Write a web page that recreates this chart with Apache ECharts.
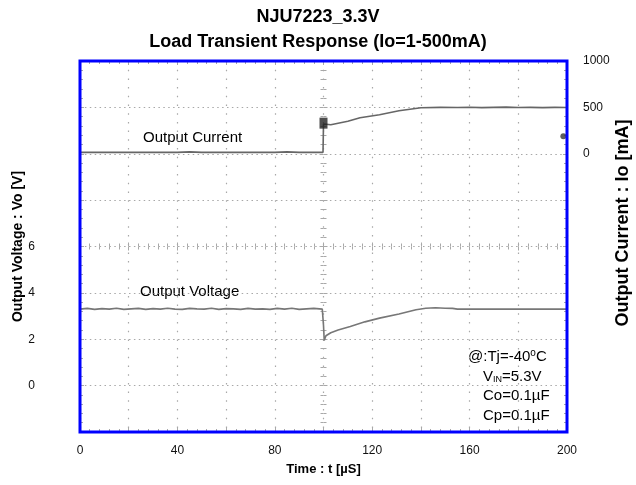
<!DOCTYPE html>
<html>
<head>
<meta charset="utf-8">
<script src="https://cdn.jsdelivr.net/npm/echarts@6/dist/echarts.min.js"></script>
<style>
html,body{margin:0;padding:0;background:#fff;}
#chart{width:636px;height:485px;}
</style>
</head>
<body>
<div id="chart"></div>
<script>
// ---- data ----
const titleLines = ['NJU7223_3.3V', 'Load Transient Response (Io=1-500mA)'];
const xTickLabels = [0, 40, 80, 120, 160, 200];
const voltTickLabels = [0, 2, 4, 6];
const currTickLabels = [0, 500, 1000];

// Output voltage trace (t in µs, Vo in V)
const voltTime = [0,3,6,9,12,15,18,21,24,27,30,33,36,39,42,45,48,51,54,57,60,63,66,69,72,75,78,81,84,87,90,93,96,99.5,
  100,100.3,101,103,106,111,117,123,131,138,142,146,150,153,155,160,170,180,190,200];
const voltValue = [3.30,3.33,3.29,3.32,3.30,3.34,3.29,3.31,3.33,3.29,3.32,3.30,3.34,3.30,3.29,3.33,3.31,3.30,3.34,3.29,3.32,3.31,3.29,3.33,3.30,3.31,3.29,3.33,3.30,3.34,3.29,3.31,3.33,3.30,
  2.60,1.95,2.15,2.28,2.40,2.55,2.75,2.91,3.09,3.27,3.34,3.36,3.34,3.33,3.30,3.30,3.30,3.30,3.30,3.30];

// Output current trace (t in µs, Io in mA)
const currTime = [0,10,20,30,40,45,50,55,60,70,80,85,90,99.8,100,100.5,103,110,115,123,131,140,148,155,160,165,170,175,180,185,190,195,200];
const currValue = [15,15,15,15,15,20,15,15,15,15,15,20,15,15,320,330,312,350,388,420,463,496,500,498,502,497,500,503,498,500,497,500,498];

// oscilloscope markers (trigger / level)
const markerSquare = [[100, 330]];
const markerDot = [[198.5, 190]];

// ---- chart ----
const FONT = 'Liberation Sans, Arial, sans-serif';
const gridColor = '#a8a8a8';
const chart = echarts.init(document.getElementById('chart'));

function tickAxisX(position, offset) {
  return {
    type: 'value', min: 0, max: 200, interval: 20, position: position, offset: offset,
    axisLine: { show: false, onZero: false },
    axisTick: { show: true, inside: true, length: 4, lineStyle: { color: gridColor } },
    minorTick: { show: true, splitNumber: 5, length: 3, lineStyle: { color: gridColor } },
    axisLabel: { show: false }, splitLine: { show: false }
  };
}
function tickAxisY(position, offset) {
  return {
    type: 'value', min: -2, max: 14, interval: 2, position: position, offset: offset,
    axisLine: { show: false, onZero: false },
    axisTick: { show: true, inside: true, length: 4, lineStyle: { color: gridColor } },
    minorTick: { show: true, splitNumber: 5, length: 3, lineStyle: { color: gridColor } },
    axisLabel: { show: false }, splitLine: { show: false }
  };
}

const option = {
  animation: false,
  backgroundColor: '#fff',
  textStyle: { fontFamily: FONT },
  title: {
    text: titleLines.join('\n'),
    left: 'center', top: 0,
    textStyle: { fontFamily: FONT, fontSize: 18, fontWeight: 'bold', color: '#000', lineHeight: 25 }
  },
  grid: {
    left: 80, right: 69, top: 61, bottom: 53,
    outerBoundsMode: 'none', containLabel: false,
    show: true, borderColor: '#0000ff', borderWidth: 3, backgroundColor: 'transparent', z: 10
  },
  xAxis: [
    {
      type: 'value', min: 0, max: 200, interval: 20, position: 'bottom',
      name: 'Time : t [µS]', nameLocation: 'middle', nameGap: 31, nameMoveOverlap: false,
      nameTextStyle: { fontFamily: FONT, fontSize: 13, fontWeight: 'bold', color: '#000' },
      axisLine: { show: false, onZero: false },
      axisTick: { show: true, inside: true, length: 4, lineStyle: { color: gridColor } },
      minorTick: { show: true, splitNumber: 5, length: 3, lineStyle: { color: gridColor } },
      axisLabel: {
        margin: 13, fontFamily: FONT, fontSize: 12, color: '#111',
        formatter: v => (xTickLabels.indexOf(v) >= 0 ? String(v) : '')
      },
      splitLine: { show: true, lineStyle: { color: gridColor, width: 1.2, type: [1.5, 7.2] } }
    },
    tickAxisX('top', 0),
    tickAxisX('bottom', -185.5),
    tickAxisX('top', -185.5)
  ],
  yAxis: [
    {
      type: 'value', min: -2, max: 14, interval: 2, position: 'left',
      name: 'Output Voltage : Vo [V]', nameLocation: 'middle', nameGap: 55, nameMoveOverlap: false,
      nameTextStyle: { fontFamily: FONT, fontSize: 14, fontWeight: 'bold', color: '#000' },
      axisLine: { show: false, onZero: false },
      axisTick: { show: true, inside: true, length: 4, lineStyle: { color: gridColor } },
      minorTick: { show: true, splitNumber: 5, length: 3, lineStyle: { color: gridColor } },
      axisLabel: {
        margin: 45, fontFamily: FONT, fontSize: 12, color: '#111',
        formatter: v => (voltTickLabels.indexOf(v) >= 0 ? String(v) : '')
      },
      splitLine: { show: true, lineStyle: { color: gridColor, width: 1.2, type: [1.5, 3.4] } }
    },
    {
      type: 'value', min: -3000, max: 1000, interval: 500, position: 'right',
      name: 'Output Current : Io [mA]', nameLocation: 'middle', nameGap: 47, nameRotate: 90, nameMoveOverlap: false,
      nameTextStyle: { fontFamily: FONT, fontSize: 18, fontWeight: 'bold', color: '#000', padding: [0, 0, 0, 47] },
      axisLine: { show: false, onZero: false },
      axisTick: { show: true, inside: true, length: 4, lineStyle: { color: gridColor } },
      minorTick: { show: true, splitNumber: 5, length: 3, lineStyle: { color: gridColor } },
      axisLabel: {
        margin: 16, fontFamily: FONT, fontSize: 12, color: '#111',
        formatter: v => (currTickLabels.indexOf(v) >= 0 ? String(v) : '')
      },
      splitLine: { show: false }
    },
    tickAxisY('left', -243.5),
    tickAxisY('right', -243.5)
  ],
  graphic: [
    { type: 'text', left: 143, top: 130, style: { text: 'Output Current', font: '15px ' + FONT, fill: '#000' } },
    { type: 'text', left: 140, top: 284, style: { text: 'Output Voltage', font: '15px ' + FONT, fill: '#000' } },
    { type: 'text', left: 468, top: 348, style: {
        text: '{a|@:Tj=-40}{s|o}{a|C}',
        rich: { a: { fontFamily: FONT, fontSize: 15, color: '#000' },
                s: { fontFamily: FONT, fontSize: 10, verticalAlign: 'top', color: '#000', padding: [0, 0, 7, 0] } } } },
    { type: 'text', left: 483, top: 369, style: {
        text: '{a|V}{s|IN}{a|=5.3V}',
        rich: { a: { fontFamily: FONT, fontSize: 15, color: '#000' },
                s: { fontFamily: FONT, fontSize: 9, color: '#000', verticalAlign: 'bottom' } } } },
    { type: 'text', left: 483, top: 388, style: { text: 'Co=0.1µF', font: '15px ' + FONT, fill: '#000' } },
    { type: 'text', left: 483, top: 408, style: { text: 'Cp=0.1µF', font: '15px ' + FONT, fill: '#000' } }
  ],
  series: [
    {
      name: 'Output Voltage', type: 'line', xAxisIndex: 0, yAxisIndex: 0,
      data: voltTime.map((t, i) => [t, voltValue[i]]),
      showSymbol: false, symbol: 'none', smooth: false,
      lineStyle: { color: '#777', width: 1.6 }, z: 5
    },
    {
      name: 'Output Current', type: 'line', xAxisIndex: 0, yAxisIndex: 1,
      data: currTime.map((t, i) => [t, currValue[i]]),
      showSymbol: false, symbol: 'none', smooth: false,
      lineStyle: { color: '#666', width: 1.6 }, z: 5
    },
    {
      type: 'scatter', xAxisIndex: 0, yAxisIndex: 1, data: markerSquare,
      symbol: 'rect', symbolSize: [8, 11], itemStyle: { color: '#222' }, z: 6
    },
    {
      type: 'scatter', xAxisIndex: 0, yAxisIndex: 1, data: markerDot,
      symbol: 'circle', symbolSize: 6, itemStyle: { color: '#333' }, z: 6
    }
  ]
};
chart.setOption(option);
</script>
</body>
</html>
